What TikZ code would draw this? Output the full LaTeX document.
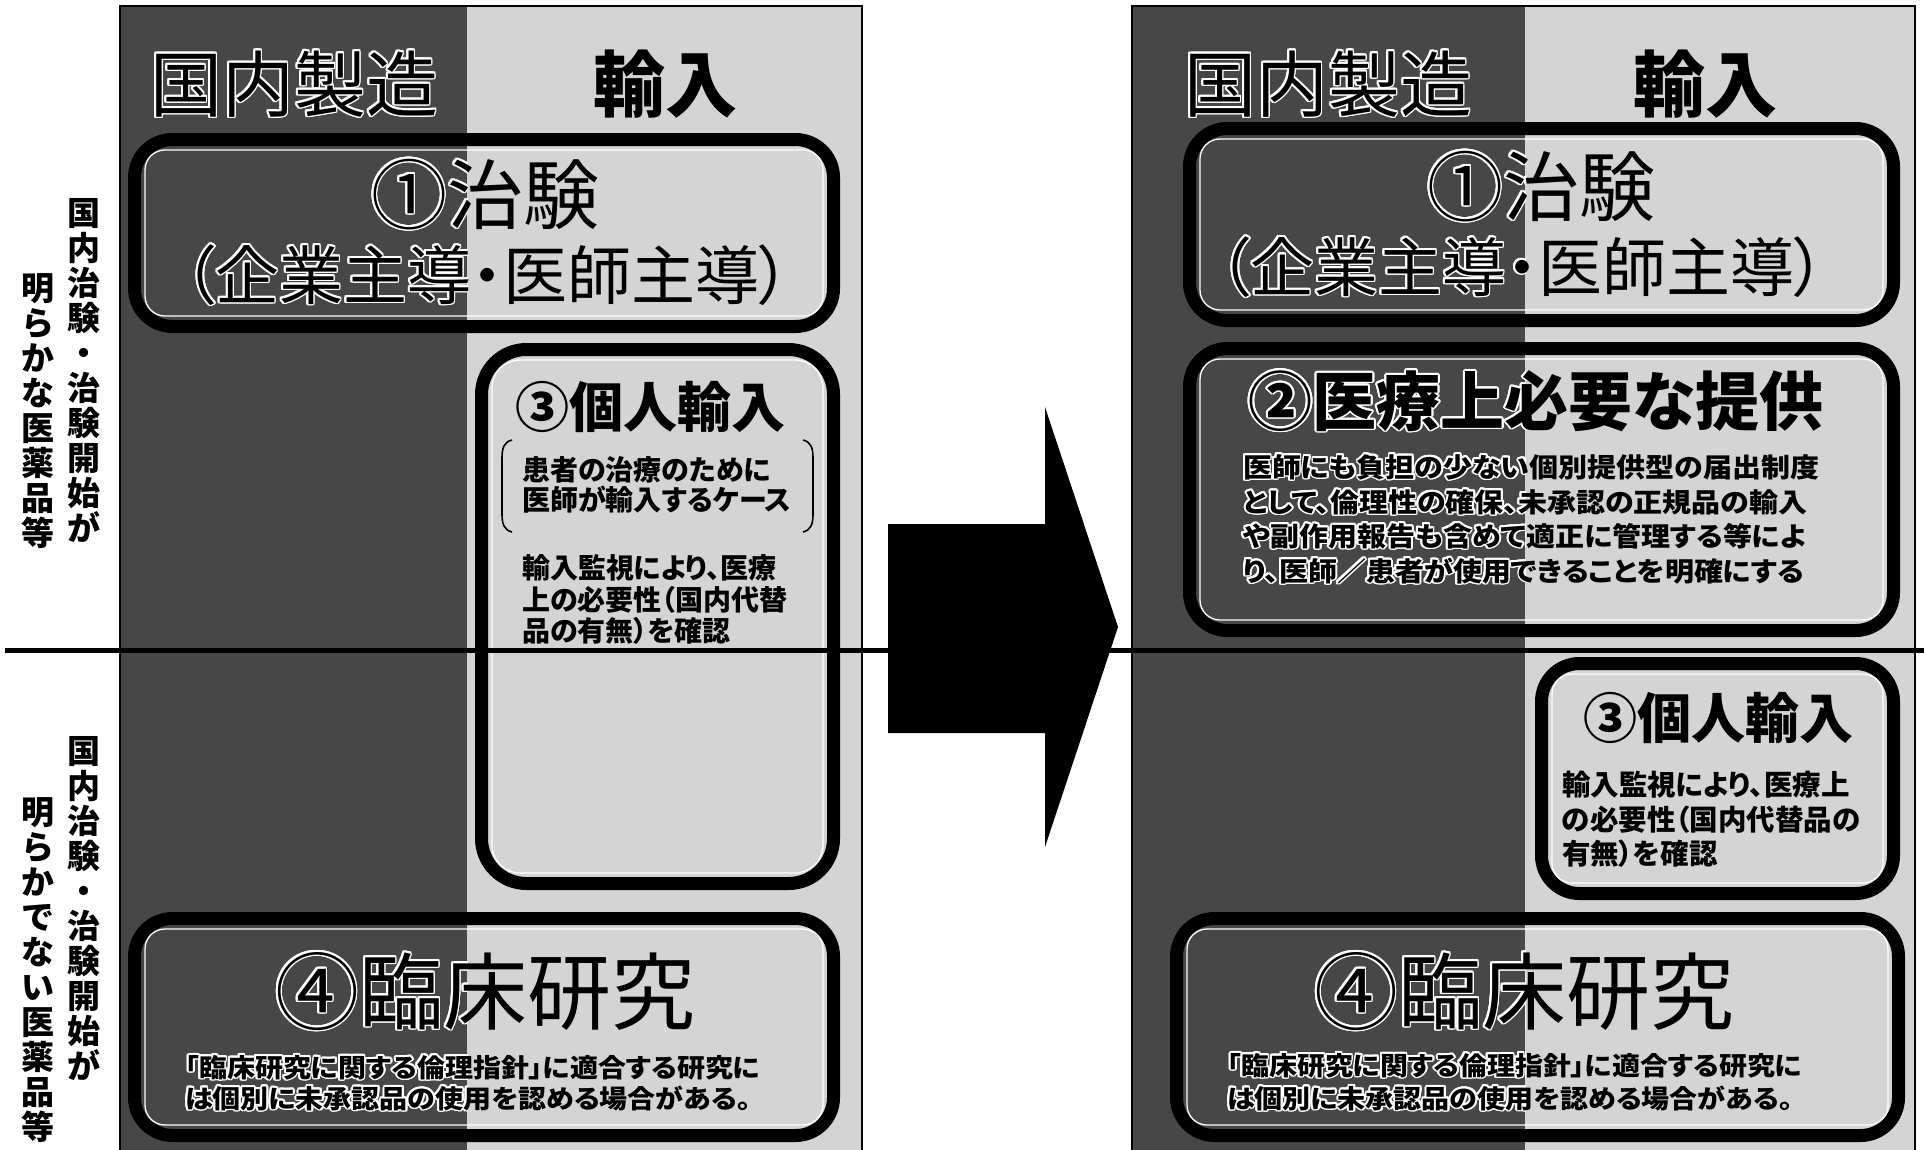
\documentclass[tikz,border=0pt]{standalone}
\usepackage{graphicx}
\usepackage{fontspec}
\setmainfont{Noto Sans CJK JP}[RawFeature=+palt]
\definecolor{darkbg}{gray}{0.28}
\definecolor{lightbg}{gray}{0.83}
\def\txcol{black}
\newcommand\fs[1]{\fontsize{#1}{#1}\selectfont}
\newcommand\vsq[2]{\scalebox{1}[#1]{#2}}
\newcommand\alltexts{%
  \node[tx,anchor=base] (Lh1) at (294,111) {\fs{72}国内製造};
  \node[tx,anchor=base] (Rh1) at (1328,111) {\fs{72}国内製造};
  \node[tx,anchor=base] (L1a) at (485,223) {\fs{76}①治験};
  \node[tx,anchor=base] (L1b) at (487,299) {\fs{64}（企業主導・医師主導）};
  \node[tx,anchor=base] (R1a) at (1541,215) {\fs{76}①治験};
  \node[tx,anchor=base] (R1b) at (1522,291) {\fs{64}（企業主導・医師主導）};
  \node[tx,anchor=base] (L4a) at (485,1023) {\fs{84}④臨床研究};
  \node[tx,anchor=base west] (L4b) at (185,1077) {\fs{28}\bfseries\vsq{0.92}{「臨床研究に関する倫理指針」に適合する研究に}};
  \node[tx,anchor=base west] (L4c) at (185,1108) {\fs{28}\bfseries\vsq{0.92}{は個別に未承認品の使用を認める場合がある。}};
  \node[tx,anchor=base] (R4a) at (1524,1023) {\fs{84}④臨床研究};
  \node[tx,anchor=base west] (R4b) at (1227,1075) {\fs{28}\bfseries\vsq{0.92}{「臨床研究に関する倫理指針」に適合する研究に}};
  \node[tx,anchor=base west] (R4c) at (1227,1108) {\fs{28}\bfseries\vsq{0.92}{は個別に未承認品の使用を認める場合がある。}};
  \node[tx,anchor=base] (R2a) at (1536,425) {\fs{64}\bfseries ②医療上必要な提供};
  \node[tx,anchor=base west] (R2b) at (1243,477) {\fs{29}\bfseries\vsq{0.92}{医師にも負担の少ない個別提供型の届出制度}};
  \node[tx,anchor=base west] (R2c) at (1243,512) {\fs{29}\bfseries\vsq{0.92}{として、倫理性の確保、未承認の正規品の輸入}};
  \node[tx,anchor=base west] (R2d) at (1243,546) {\fs{29}\bfseries\vsq{0.92}{や副作用報告も含めて適正に管理する等によ}};
  \node[tx,anchor=base west] (R2e) at (1243,581) {\fs{29}\bfseries\vsq{0.92}{り、医師／患者が使用できることを明確にする}};
}
\begin{document}
\begin{tikzpicture}[x=1pt,y=-1pt,
  tx/.style={inner sep=0pt,outer sep=0pt,text=\txcol},
  bigbox/.style={draw=black,line width=13pt,rounded corners=38pt},
  innerline/.style={draw=white,line width=1.3pt,rounded corners=20pt},
  vlabel/.style={inner sep=0pt,anchor=north,align=center,font=\fontsize{33}{35}\selectfont\bfseries},
  pborder/.style={draw=black,line width=2.5pt}]
\useasboundingbox (0,0) rectangle (1924,1149);
\fill[white] (0,0) rectangle (1924,1149);
% panels
\fill[darkbg] (120,6) rectangle (467,1160);
\fill[lightbg] (467,6) rectangle (862,1160);
\draw[pborder] (120,1160) -- (120,6) -- (862,6) -- (862,1160);
\fill[darkbg] (1132,6) rectangle (1525,1160);
\fill[lightbg] (1525,6) rectangle (1915,1160);
\draw[pborder] (1132,1160) -- (1132,6) -- (1915,6) -- (1915,1160);
% boxes left
\draw[bigbox] (134.5,139.5) rectangle (833.5,326.5);
\draw[innerline] (145,150) rectangle (823,316);
\draw[bigbox,rounded corners=45pt] (481.5,349.5) rectangle (833.5,883.5);
\draw[innerline,rounded corners=28pt] (492,360) rectangle (823,873);
\draw[bigbox] (134.5,918.5) rectangle (833.5,1135.5);
\draw[innerline] (145,929) rectangle (823,1125);
% boxes right
\draw[bigbox] (1189.5,128.5) rectangle (1893.5,320.5);
\draw[innerline] (1200,139) rectangle (1883,310);
\draw[bigbox] (1189.5,348.5) rectangle (1893.5,630.5);
\draw[innerline] (1200,359) rectangle (1883,620);
\draw[bigbox] (1541.5,663.5) rectangle (1893.5,893.5);
\draw[innerline] (1552,674) rectangle (1883,883);
\draw[bigbox] (1176.5,918.5) rectangle (1898.5,1135.5);
\draw[innerline] (1187,929) rectangle (1888,1125);
% divider
\coordinate (divL) at (5,650);
\coordinate (divR) at (1924,650);
\draw[line width=5pt] (divL) -- (divR);
% arrow
\fill[black] (888,524) -- (1045,524) -- (1045,407) -- (1118,627) -- (1045,847) -- (1045,733) -- (888,733) -- cycle;
% brackets
\draw[line width=1.6pt] (512,440) .. controls (504,442) and (502,448) .. (502,458) -- (502,514) .. controls (502,524) and (504,530) .. (512,532);
\draw[line width=1.6pt] (803,440) .. controls (811,442) and (813,448) .. (813,458) -- (813,514) .. controls (813,524) and (811,530) .. (803,532);
% halo pass (white outline of the texts inside the dark columns)
\begin{scope}
  \clip (120,6) rectangle (467,1149) (1132,6) rectangle (1525,1149);
  \def\txcol{white}
  \foreach \dx/\dy in {1.8/0,-1.8/0,0/1.8,0/-1.8,1.3/1.3,-1.3/1.3,1.3/-1.3,-1.3/-1.3,1.7/0.7,-1.7/0.7,1.7/-0.7,-1.7/-0.7,0.7/1.7,-0.7/1.7,0.7/-1.7,-0.7/-1.7}{%
    \begin{scope}[shift={(\dx,\dy)}]
      \alltexts
    \end{scope}}
\end{scope}
\def\txcol{black}
\alltexts
% plain texts
\node[tx,anchor=base] (Lh2) at (665,111) {\fs{72}\bfseries 輸入};
\node[tx,anchor=base] (Rh2) at (1705,111) {\fs{72}\bfseries 輸入};
\node[tx,anchor=base] (L3a) at (650,427) {\fs{54}\bfseries ③個人輸入};
\node[tx,anchor=base west] (L3b) at (522,480) {\fs{28}\bfseries 患者の治療のために};
\node[tx,anchor=base west] (L3c) at (522,510) {\fs{28}\bfseries 医師が輸入するケース};
\node[tx,anchor=base west] (L3d) at (522,578) {\fs{28}\bfseries 輸入監視により、医療};
\node[tx,anchor=base west] (L3e) at (522,610) {\fs{28}\bfseries 上の必要性（国内代替};
\node[tx,anchor=base west] (L3f) at (522,641) {\fs{28}\bfseries 品の有無）を確認};
\node[tx,anchor=base] (R3a) at (1718,738) {\fs{54}\bfseries ③個人輸入};
\node[tx,anchor=base west] (R3b) at (1562,795) {\fs{28.5}\bfseries 輸入監視により、医療上};
\node[tx,anchor=base west] (R3c) at (1562,830) {\fs{28.5}\bfseries の必要性（国内代替品の};
\node[tx,anchor=base west] (R3d) at (1562,864) {\fs{28.5}\bfseries 有無）を確認};
% vertical labels
\node[vlabel] (VU1) at (84,198) {国\\内\\治\\験\\・\\治\\験\\開\\始\\が};
\node[vlabel] (VU2) at (38,273) {明\\ら\\か\\な\\医\\薬\\品\\等};
\node[vlabel] (VD1) at (84,736) {国\\内\\治\\験\\・\\治\\験\\開\\始\\が};
\node[vlabel] (VD2) at (38,797) {明\\ら\\か\\で\\な\\い\\医\\薬\\品\\等};
\end{tikzpicture}
\end{document}
